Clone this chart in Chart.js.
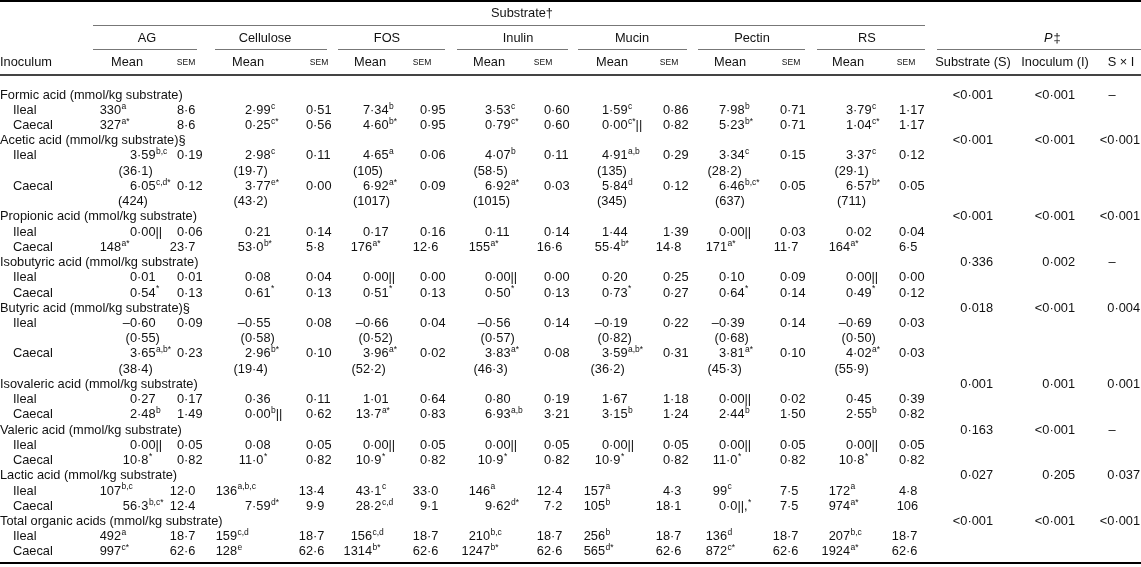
<!DOCTYPE html>
<html>
<head>
<meta charset="utf-8">
<script src="https://cdn.jsdelivr.net/npm/chart.js@4.4.0/dist/chart.umd.min.js"></script>
<style>
body{margin:0;background:#fff;}
#wrap{width:1141px;height:567px;position:relative;}
</style>
</head>
<body>
<div id="wrap"><canvas id="tabla"></canvas></div>
<script>
// filas de la tabla
var rowLabels=[
 "Formic acid (mmol/kg substrate)","Ileal","Caecal",
 "Acetic acid (mmol/kg substrate)§","Ileal","","Caecal","",
 "Propionic acid (mmol/kg substrate)","Ileal","Caecal",
 "Isobutyric acid (mmol/kg substrate)","Ileal","Caecal",
 "Butyric acid (mmol/kg substrate)§","Ileal","","Caecal","",
 "Isovaleric acid (mmol/kg substrate)","Ileal","Caecal",
 "Valeric acid (mmol/kg substrate)","Ileal","Caecal",
 "Lactic acid (mmol/kg substrate)","Ileal","Caecal",
 "Total organic acids (mmol/kg substrate)","Ileal","Caecal"
];
var substrates=['AG','Cellulose','FOS','Inulin','Mucin','Pectin','RS'];
var pHeaders=['Substrate (S)','Inoculum (I)','S \u00d7 I'];

// valores (a^sup^resto)
var agMean=["","330^a","327^a*","","3·59^b,c","(36·1)","6·05^c,d*","(424)","","0·00||","148^a*","","0·01","0·54^*","","–0·60","(0·55)","3·65^a,b*","(38·4)","","0·27","2·48^b","","0·00||","10·8^*","","107^b,c","56·3^b,c*","","492^a","997^c*"];
var agSem=["","8·6","8·6","","0·19","","0·12","","","0·06","23·7","","0·01","0·13","","0·09","","0·23","","","0·17","1·49","","0·05","0·82","","12·0","12·4","","18·7","62·6"];
var celMean=["","2·99^c","0·25^c*","","2·98^c","(19·7)","3·77^e*","(43·2)","","0·21","53·0^b*","","0·08","0·61^*","","–0·55","(0·58)","2·96^b*","(19·4)","","0·36","0·00^b^||","","0·08","11·0^*","","136^a,b,c","7·59^d*","","159^c,d","128^e"];
var celSem=["","0·51","0·56","","0·11","","0·00","","","0·14","5·8","","0·04","0·13","","0·08","","0·10","","","0·11","0·62","","0·05","0·82","","13·4","9·9","","18·7","62·6"];
var fosMean=["","7·34^b","4·60^b*","","4·65^a","(105)","6·92^a*","(1017)","","0·17","176^a*","","0·00||","0·51^*","","–0·66","(0·52)","3·96^a*","(52·2)","","1·01","13·7^a*","","0·00||","10·9^*","","43·1^c","28·2^c,d","","156^c,d","1314^b*"];
var fosSem=["","0·95","0·95","","0·06","","0·09","","","0·16","12·6","","0·00","0·13","","0·04","","0·02","","","0·64","0·83","","0·05","0·82","","33·0","9·1","","18·7","62·6"];
var inuMean=["","3·53^c","0·79^c*","","4·07^b","(58·5)","6·92^a*","(1015)","","0·11","155^a*","","0·00||","0·50^*","","–0·56","(0·57)","3·83^a*","(46·3)","","0·80","6·93^a,b","","0·00||","10·9^*","","146^a","9·62^d*","","210^b,c","1247^b*"];
var inuSem=["","0·60","0·60","","0·11","","0·03","","","0·14","16·6","","0·00","0·13","","0·14","","0·08","","","0·19","3·21","","0·05","0·82","","12·4","7·2","","18·7","62·6"];
var mucMean=["","1·59^c","0·00^c*^||","","4·91^a,b","(135)","5·84^d","(345)","","1·44","55·4^b*","","0·20","0·73^*","","–0·19","(0·82)","3·59^a,b*","(36·2)","","1·67","3·15^b","","0·00||","10·9^*","","157^a","105^b","","256^b","565^d*"];
var mucSem=["","0·86","0·82","","0·29","","0·12","","","1·39","14·8","","0·25","0·27","","0·22","","0·31","","","1·18","1·24","","0·05","0·82","","4·3","18·1","","18·7","62·6"];
var pecMean=["","7·98^b","5·23^b*","","3·34^c","(28·2)","6·46^b,c*","(637)","","0·00||","171^a*","","0·10","0·64^*","","–0·39","(0·68)","3·81^a*","(45·3)","","0·00||","2·44^b","","0·00||","11·0^*","","99^c","0·0||,^*","","136^d","872^c*"];
var pecSem=["","0·71","0·71","","0·15","","0·05","","","0·03","11·7","","0·09","0·14","","0·14","","0·10","","","0·02","1·50","","0·05","0·82","","7·5","7·5","","18·7","62·6"];
var rsMean=["","3·79^c","1·04^c*","","3·37^c","(29·1)","6·57^b*","(711)","","0·02","164^a*","","0·00||","0·49^*","","–0·69","(0·50)","4·02^a*","(55·9)","","0·45","2·55^b","","0·00||","10·8^*","","172^a","974^a*","","207^b,c","1924^a*"];
var rsSem=["","1·17","1·17","","0·12","","0·05","","","0·04","6·5","","0·00","0·12","","0·03","","0·03","","","0·39","0·82","","0·05","0·82","","4·8","106","","18·7","62·6"];
// P por grupo de acido
var pSubstrate=["<0·001","<0·001","<0·001","0·336","0·018","0·001","0·163","0·027","<0·001"];
var pInoculum=["<0·001","<0·001","<0·001","0·002","<0·001","0·001","<0·001","0·205","<0·001"];
var pInteraction=["–","<0·001","<0·001","–","0·004","0·001","–","0·037","<0·001"];

var FONT='"Liberation Sans", Arial, Helvetica, sans-serif';
var SIZE=12.8, SUP=8.5;

var isGroup=rowLabels.map(function(l){return l.indexOf('(mmol')>=0;});
var groupRows=[];
isGroup.forEach(function(g,i){ if(g) groupRows.push(i); });

function perGroup(arr){
  var out=rowLabels.map(function(){return '';});
  for(var g=0;g<arr.length;g++) out[groupRows[g]]=arr[g];
  return out;
}

var columns=[
 {data:rowLabels.map(function(l,i){return isGroup[i]?l:'';}), x:0, kind:'label'},
 {data:rowLabels.map(function(l,i){return isGroup[i]?'':l;}), x:13, kind:'label'},
 {data:agMean, x:137, kind:'mean', intOff:-16, parenOff:-19},
 {data:agSem, x:184, kind:'sem', intOff:12},
 {data:celMean, x:252, kind:'mean', intOff:-15, parenOff:-19},
 {data:celSem, x:313, kind:'sem', intOff:12},
 {data:fosMean, x:370, kind:'mean', intOff:2, parenOff:-17},
 {data:fosSem, x:427, kind:'sem', intOff:12},
 {data:inuMean, x:492, kind:'mean', intOff:-2, parenOff:-19},
 {data:inuSem, x:551, kind:'sem', intOff:12},
 {data:mucMean, x:609, kind:'mean', intOff:-4, parenOff:-12},
 {data:mucSem, x:670, kind:'sem', intOff:12},
 {data:pecMean, x:726, kind:'mean', intOff:1, parenOff:-11},
 {data:pecSem, x:787, kind:'sem', intOff:12},
 {data:rsMean, x:853, kind:'mean', intOff:-3, parenOff:-16},
 {data:rsSem, x:906, kind:'sem', intOff:12},
 {data:perGroup(pSubstrate), x:993, kind:'p'},
 {data:perGroup(pInoculum), x:1075, kind:'p'},
 {data:perGroup(pInteraction), x:1140, kind:'p', dashOff:-28}
];

var datasets=columns.map(function(c){
  var pts=[];
  c.data.forEach(function(t,i){ if(t!=='') pts.push({x:c.x,y:i,t:t}); });
  return {data:pts, pointRadius:0, col:c};
});

function drawCell(ctx,t,px,py,col){
  var parts=t.split('^');
  var main=parts[0], sup=parts[1]||'', tail=parts[2]||'';
  ctx.font=SIZE+'px '+FONT;
  var w=ctx.measureText(main).width;
  var x0;
  if(col.kind=='label') x0=px;
  else if(col.kind=='p'){
    if(main=='–') x0=px+(col.dashOff||-20)-w/2;
    else x0=px-w;
  }
  else if(main.indexOf('·')>=0) x0=px-ctx.measureText(main.slice(0,main.indexOf('·'))).width;
  else if(main.charAt(0)=='(') x0=px+col.parenOff;
  else x0=px+col.intOff-w;
  ctx.fillText(main,x0,py);
  var x=x0+w;
  if(sup){
    ctx.font=SUP+'px '+FONT;
    ctx.fillText(sup,x+0.5,py-4);
    x+=ctx.measureText(sup).width+0.5;
    ctx.font=SIZE+'px '+FONT;
  }
  if(tail) ctx.fillText(tail,x,py);
}

var tablePlugin={
  id:'tabla',
  afterDatasetsDraw:function(chart){
    var ctx=chart.ctx;
    ctx.save();
    ctx.fillStyle='#111';
    ctx.textBaseline='middle';
    chart.data.datasets.forEach(function(ds,di){
      var meta=chart.getDatasetMeta(di);
      meta.data.forEach(function(el,k){
        drawCell(ctx,ds.data[k].t,el.x,el.y,ds.col);
      });
    });

    // cabecera
    var spans=[[93,197],[215,327],[338,445],[457,568],[578,687],[698,805],[817,925]];
    var subC=[147,265,387,518,632,752,867];
    var meanC=[127,248,370,489,612,730,848];
    var semC=[186,319,422,543,669,791,906];
    var pC=[973,1055,1121];
    ctx.textAlign='center';
    ctx.font=SIZE+'px '+FONT;
    ctx.fillText('Substrate\u2020',522,13);
    substrates.forEach(function(s,i){ ctx.fillText(s,subC[i],38); });
    meanC.forEach(function(x){ ctx.fillText('Mean',x,62); });
    pHeaders.forEach(function(s,i){ ctx.fillText(s,pC[i],62); });
    ctx.textAlign='left';
    ctx.fillText('Inoculum',0,62);
    ctx.font='italic '+SIZE+'px '+FONT;
    var wp=ctx.measureText('P').width;
    ctx.fillText('P',1044,38);
    ctx.font=SIZE+'px '+FONT;
    ctx.fillText('\u2021',1044+wp+1,38);
    ctx.textAlign='center';
    ctx.font=SUP+'px '+FONT;
    semC.forEach(function(x){ ctx.fillText('SEM',x,63); });

    // lineas
    ctx.fillStyle='#000';
    ctx.fillRect(0,0,1141,2);
    ctx.fillRect(0,562,1141,2);
    ctx.fillStyle='#444';
    ctx.fillRect(0,74,1141,2);
    ctx.fillStyle='#777';
    ctx.fillRect(93,25,832,1);
    spans.forEach(function(s){ ctx.fillRect(s[0],49,s[1]-s[0],1); });
    ctx.fillRect(937,49,204,1);
    ctx.restore();
  }
};

new Chart(document.getElementById('tabla'),{
  type:'scatter',
  data:{datasets:datasets},
  options:{
    responsive:true,
    maintainAspectRatio:false,
    animation:false,
    events:[],
    layout:{padding:0},
    plugins:{legend:{display:false},tooltip:{enabled:false}},
    scales:{
      x:{type:'linear',min:0,max:1141,display:false},
      y:{type:'linear',min:-6.238,max:30.99,reverse:true,display:false}
    }
  },
  plugins:[tablePlugin]
});
</script>
</body>
</html>
